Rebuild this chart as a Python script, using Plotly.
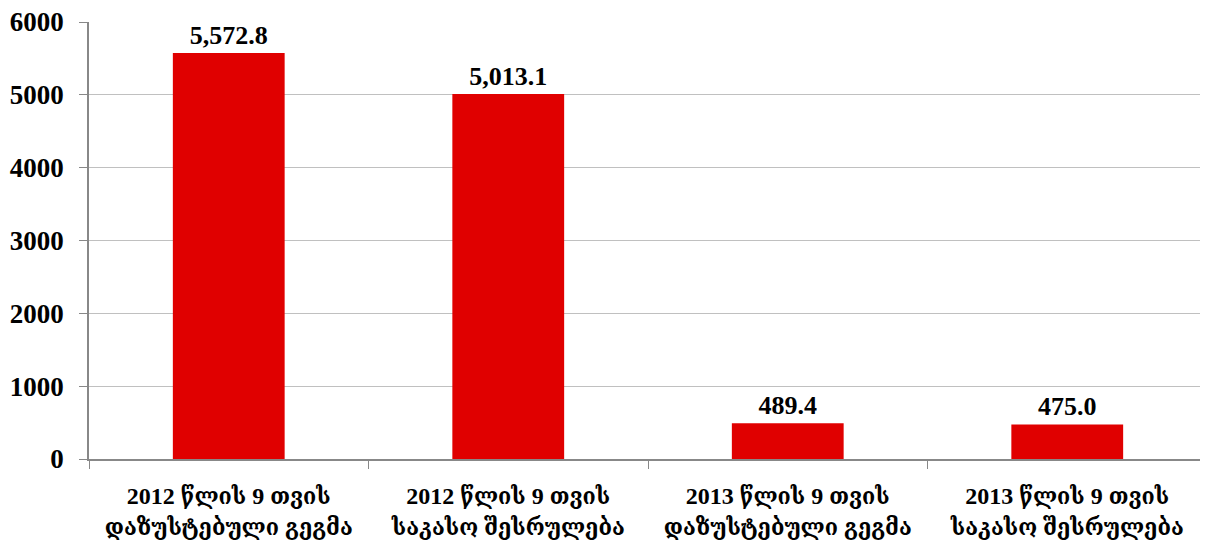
import plotly.graph_objects as go

categories = [
    "2012 წლის 9 თვის<br>დაზუსტებული გეგმა",
    "2012 წლის 9 თვის<br>საკასო შესრულება",
    "2013 წლის 9 თვის<br>დაზუსტებული გეგმა",
    "2013 წლის 9 თვის<br>საკასო შესრულება",
]
values = [5572.8, 5013.1, 489.4, 475.0]
labels = ["5,572.8", "5,013.1", "489.4", "475.0"]
y_ticks = [0, 1000, 2000, 3000, 4000, 5000, 6000]

FONT = "Liberation Serif, DejaVu Serif, serif"
CAT_FONT = "Liberation Serif, DejaVu Serif Condensed, DejaVu Serif, serif"

fig = go.Figure(go.Bar(
    x=categories, y=values, text=labels, textposition="outside",
    textfont=dict(family=FONT, size=26, color="black", weight="bold"),
    marker=dict(color="#e00000", line=dict(width=0)),
    cliponaxis=False,
))
# page body has an 8px default margin: figure is sized to fill the rest of the window
fig.update_layout(
    width=1200, height=538,
    margin=dict(l=81, r=1, t=14, b=87),
    plot_bgcolor="white", paper_bgcolor="white",
    bargap=0.6, showlegend=False,
    font=dict(family=FONT, color="black"),
)
fig.update_yaxes(
    range=[0, 6000], tickvals=y_ticks, showgrid=True, gridcolor="#c0c0c0", gridwidth=1,
    showline=True, linecolor="#888888", linewidth=1.5, ticks="outside", ticklen=8,
    tickcolor="#888888", tickfont=dict(family=FONT, size=27, color="black", weight="bold"),
    zeroline=False, ticklabelstandoff=10, automargin=False, ticklabeloverflow="allow",
)
fig.update_xaxes(
    showline=True, linecolor="#888888", linewidth=1.5, ticks="outside", ticklen=8,
    tickcolor="#888888", tickson="boundaries", automargin=False, tickangle=0,
    tickfont=dict(family=CAT_FONT, size=24, color="black", weight="bold"),
    ticklabelstandoff=14,
)
fig.write_html("out.html")
